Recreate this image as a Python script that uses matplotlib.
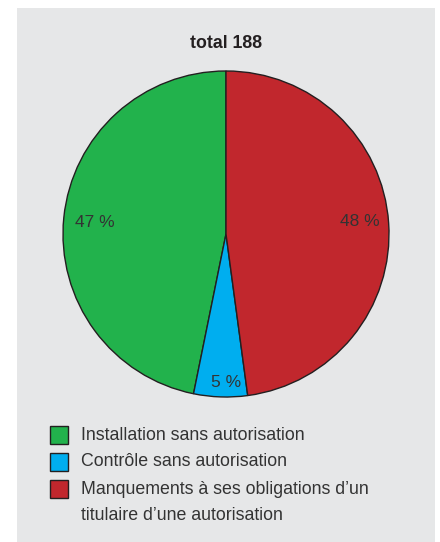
import matplotlib.pyplot as plt
from matplotlib.patches import Rectangle

# data
labels = ["Installation sans autorisation",
          "Contrôle sans autorisation",
          "Manquements à ses obligations d’un\ntitulaire d’une autorisation"]
counts = [88, 10, 90]
colors = ["#22b24c", "#00aeef", "#c1272d"]
title = "total 188"

W, H = 440, 542
fig = plt.figure(figsize=(W / 100, H / 100), dpi=100, facecolor="white")
plt.rcParams["font.family"] = ["Liberation Sans", "DejaVu Sans"]

# grey panel
fig.add_artist(Rectangle((17 / W, 0), (435 - 17) / W, (H - 8) / H,
                         transform=fig.transFigure, facecolor="#e6e7e8",
                         edgecolor="none", zorder=-5))

# pie axes: centre (226, 234), radius 163 px
cx, cy, r = 226, 234, 163
ax = fig.add_axes([(cx - r) / W, (H - cy - r) / H, 2 * r / W, 2 * r / H])
ax.set_facecolor("none")
ax.set_zorder(1)
wedges, texts, autotexts = ax.pie(
    counts, colors=colors, startangle=90, counterclock=True,
    autopct=lambda p: f"{p:.0f} %", pctdistance=0.82,
    wedgeprops=dict(edgecolor="#231f20", linewidth=1.0),
    textprops=dict(color="#333333", fontsize=12.5))
ax.set_xlim(-1, 1)
ax.set_ylim(-1, 1)
# small slice label sits closer to the rim
x, y = autotexts[1].get_position()
autotexts[1].set_position((x * 1.11 + 0.03, y * 1.11))
x, y = autotexts[2].get_position()
autotexts[2].set_position((x, y + 0.02))
x, y = autotexts[0].get_position()
autotexts[0].set_position((x + 0.012, y - 0.01))

fig.text(cx / W, 1 - 44 / H, title, ha="center", va="center",
         fontsize=12.8, fontweight="bold", color="#231f20")

# legend
rows = [435, 462, 489]
for lab, col, yy in zip(labels, colors, rows):
    fig.add_artist(Rectangle((50 / W, 1 - (yy + 9) / H), 18 / W, 18 / H,
                             transform=fig.transFigure, facecolor=col,
                             edgecolor="#231f20", linewidth=1.0))
    for i, line in enumerate(lab.split("\n")):
        fig.text(81 / W, 1 - (yy + 27 * i) / H, line, ha="left", va="center",
                 fontsize=12.8, color="#333333")

fig.savefig("out.png", dpi=100, facecolor="white")
